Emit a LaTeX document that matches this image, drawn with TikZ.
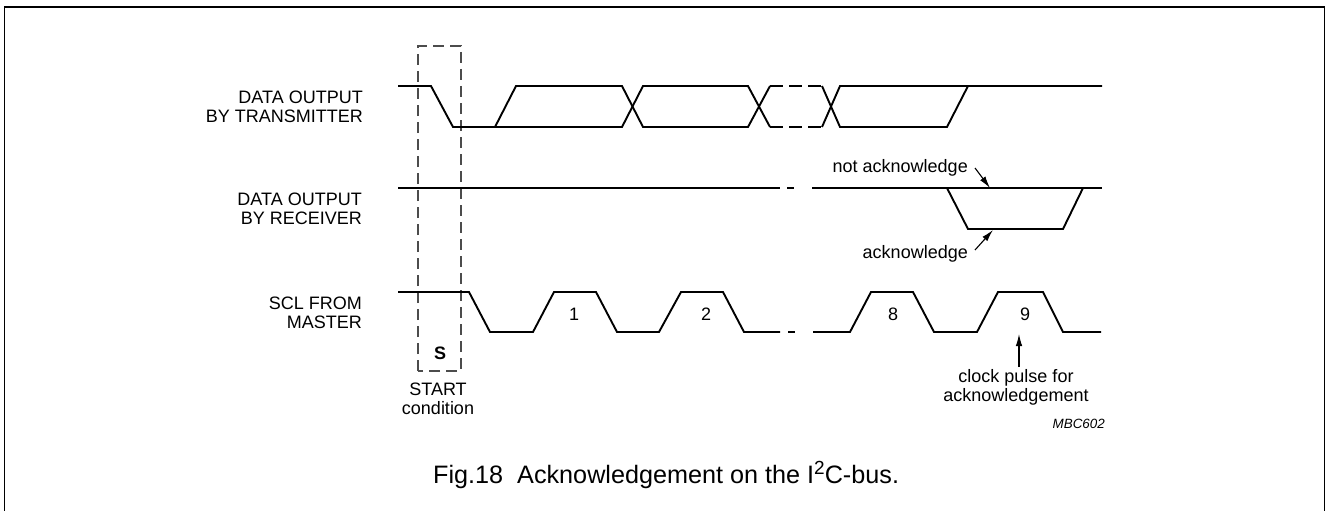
\documentclass[tikz,border=0pt]{standalone}
\usepackage{fontspec}
\setmainfont{Liberation Sans}
\usetikzlibrary{arrows.meta}
\tikzstyle{sig_line} = [line width=1.9pt, line join=miter]
\tikzstyle{sig_gap} = [sig_line, dash pattern=on 13pt off 6pt]
\tikzstyle{box_dash} = [line width=1.1pt, draw=black!70, dash pattern=on 11pt off 6pt]
\tikzstyle{lbl_text} = [inner sep=0pt, align=right, font=\fontsize{18}{18.7}\selectfont]
\tikzstyle{note_text} = [inner sep=0pt, align=center, font=\fontsize{18}{19}\selectfont]
\tikzstyle{note_arrow} = [line width=1.1pt, -{Latex[length=12pt,width=6.5pt]}]

\begin{document}
\begin{tikzpicture}[x=1pt,y=-1pt]
			\useasboundingbox (0,0) rectangle (1326,511);
			\clip (0,0) rectangle (1326,511);
			\draw[line width=1.4pt] (4.5,7) rectangle (1324.5,540);
			% signal names
			\node (tx_lbl) at (363,107) [lbl_text, anchor=east] {DATA OUTPUT\\BY TRANSMITTER};
			\node (rx_lbl) at (362,208.5) [lbl_text, anchor=east] {DATA OUTPUT\\BY RECEIVER};
			\node (scl_lbl) at (362,313) [lbl_text, anchor=east] {SCL FROM\\MASTER};
			% start condition
			\draw[box_dash] (418,371) -- (418,46) -- (461,46) -- (461,371) -- cycle;
			\node (s_lbl) at (440,353) [note_text, font=\fontsize{18}{19}\selectfont\bfseries] {S};
			\node (start_lbl) at (438,398.5) [note_text] {START\\condition};
			% data output by transmitter
			\draw[sig_line] (398,86)--(431,86)--(453,127)--(622,127)--(643,86)--(748,86)--(770,127);
			\draw[sig_line] (495,127)--(516,86)--(622,86)--(643,127)--(748,127)--(770,86);
			\draw[sig_gap] (770,86)--(822,86) (770,127)--(822,127);
			\draw[sig_line] (822,86)--(840,127)--(947,127)--(968,86);
			\draw[sig_line] (822,127)--(840,86)--(1102,86);
			% data output by receiver
			\draw[sig_line] (398,188)--(780,188) (787,188)--(794,188) (812,188)--(1102,188);
			\draw[sig_line] (947,188)--(968,229)--(1063,229)--(1083,188);
			\node (nack_lbl) at (968,172) [note_text, anchor=base east] {not acknowledge};
			\node (ack_lbl) at (968,258) [note_text, anchor=base east] {acknowledge};
			\coordinate (nack_tail) at (975,168);
			\coordinate (nack_tip) at (990,188);
			\coordinate (ack_tail) at (975,250);
			\coordinate (ack_tip) at (993,230);
			\draw[note_arrow] (nack_tail)--(nack_tip);
			\draw[note_arrow] (ack_tail)--(ack_tip);
			% SCL from master
			\draw[sig_line] (398,292)--(469,292)--(490,332)--(533,332)--(554,292)--(596,292)--(617,332)--(659,332)--(681,292)--(723,292)--(744,332)--(780,332);
			\draw[sig_line] (788,332)--(795,332);
			\draw[sig_line] (813,332)--(850,332)--(871,292)--(913,292)--(934,332)--(977,332)--(998,292)--(1043,292)--(1063,332)--(1101,332);
			\node (p1) at (574,314) [note_text] {1};
			\node (p2) at (706,314) [note_text] {2};
			\node (p8) at (893,314) [note_text] {8};
			\node (p9) at (1025,314) [note_text] {9};
			\node (clk_lbl) at (1016,387.5) [note_text] {clock pulse for\\acknowledgement};
			\coordinate (clk_tail) at (1019,367);
			\coordinate (clk_tip) at (1019,334);
			\draw[note_arrow] (clk_tail)--(clk_tip);
			\node (code_lbl) at (1105,428) [inner sep=0pt, anchor=base east, font=\fontsize{13.4}{14}\selectfont\itshape] {MBC602};
			% caption
			\node (cap_lbl) at (433,483) [inner sep=0pt, anchor=base west, font=\fontsize{25.2}{27}\selectfont] {Fig.18\hspace{14pt}Acknowledgement on the I\raisebox{0.34em}{\fontsize{19}{19}\selectfont 2}C-bus.};
		\end{tikzpicture}
\end{document}
